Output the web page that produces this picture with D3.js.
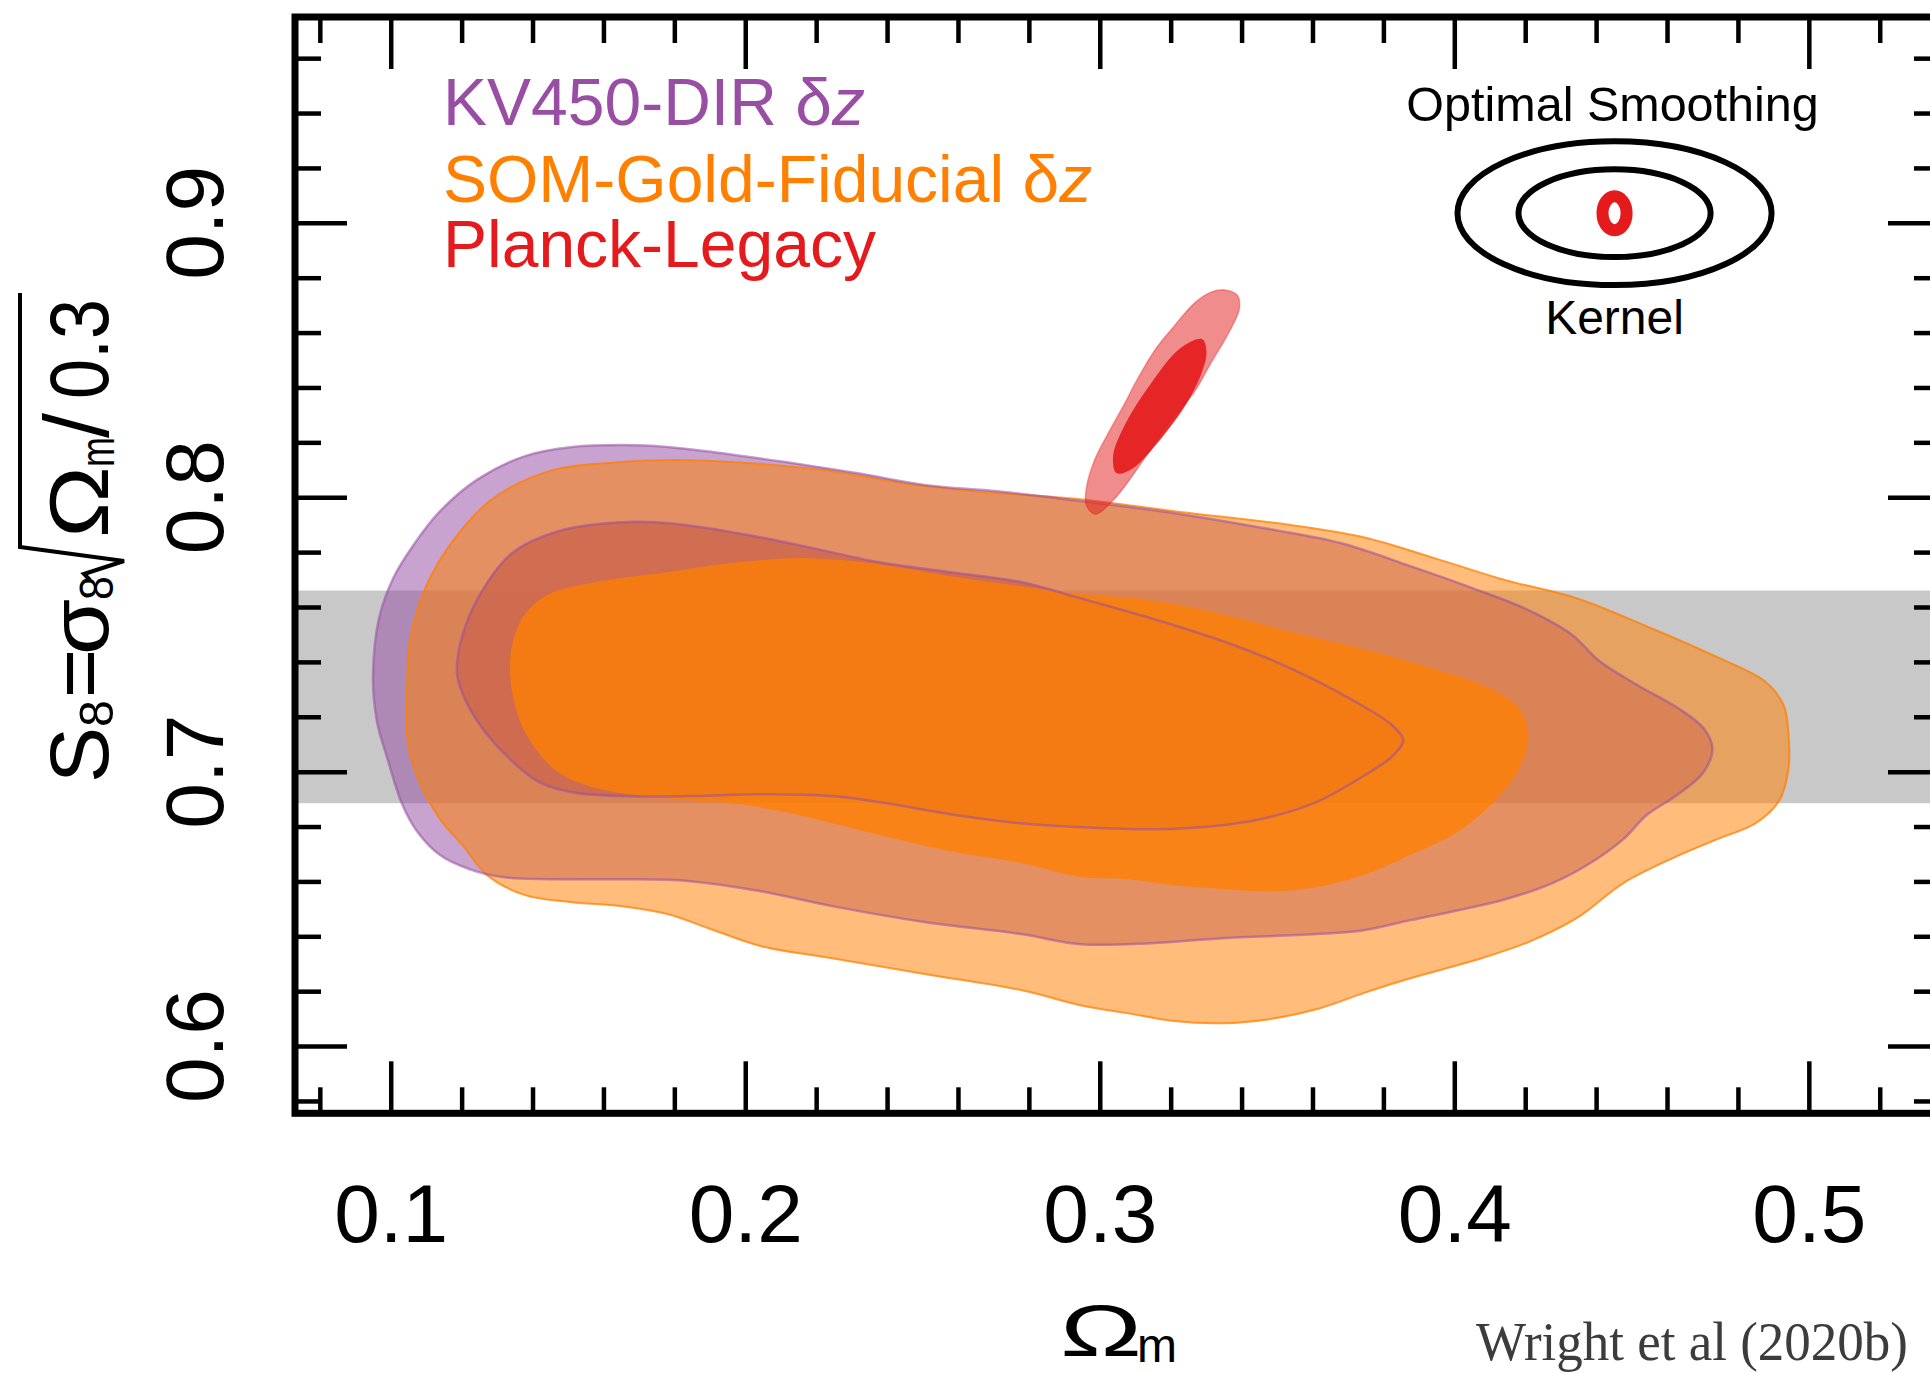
<!DOCTYPE html>
<html>
<head>
<meta charset="utf-8">
<script src="https://cdn.jsdelivr.net/npm/d3@7"></script>
<style>
  html, body { margin: 0; padding: 0; background: #ffffff; overflow: hidden; }
  svg { display: block; }
</style>
</head>
<body>
<svg id="chart" width="1930" height="1373"></svg>
<script>
// ---- axis ticks and labels ----
const xMajorTicks = [0.1, 0.2, 0.3, 0.4, 0.5];
const xTickLabels = ["0.1", "0.2", "0.3", "0.4", "0.5"];
const xMinorTicks = [0.08, 0.12, 0.14, 0.16, 0.18, 0.22, 0.24, 0.26, 0.28,
                     0.32, 0.34, 0.36, 0.38, 0.42, 0.44, 0.46, 0.48, 0.52];
const yMajorTicks = [0.6, 0.7, 0.8, 0.9];
const yTickLabels = ["0.6", "0.7", "0.8", "0.9"];
const yMinorTicks = [0.58, 0.62, 0.64, 0.66, 0.68, 0.72, 0.74, 0.76, 0.78,
                     0.82, 0.84, 0.86, 0.88, 0.92, 0.94, 0.96];

// ---- legend entries ----
const legendNames = ["KV450-DIR ", "SOM-Gold-Fiducial ", "Planck-Legacy"];
const legendSuffix = [true, true, false];   // entries ending in "δz"

// ---- horizontal S8 band ----
const s8Band = [0.6885, 0.766];

// ---- KV450-DIR δz : outer (95%) and inner (68%) contours, [Ωm, S8] ----
const kv450Outer = [
  [0.0950,0.7344],[0.0967,0.7559],[0.1007,0.7705],[0.1060,0.7818],[0.1139,0.7949],
  [0.1246,0.8066],[0.1379,0.8150],[0.1512,0.8183],[0.1658,0.8190],[0.1780,0.8183],
  [0.1912,0.8164],[0.2113,0.8128],[0.2313,0.8088],[0.2510,0.8044],[0.2711,0.8022],
  [0.2945,0.7986],[0.3210,0.7942],[0.3478,0.7884],[0.3679,0.7833],[0.3876,0.7749],
  [0.4051,0.7669],[0.4209,0.7589],[0.4330,0.7501],[0.4409,0.7403],[0.4517,0.7315],
  [0.4635,0.7228],[0.4703,0.7158],[0.4728,0.7086],[0.4703,0.6998],[0.4624,0.6911],
  [0.4542,0.6841],[0.4477,0.6754],[0.4384,0.6667],[0.4277,0.6594],[0.4144,0.6535],
  [0.4012,0.6495],[0.3876,0.6459],[0.3744,0.6422],[0.3611,0.6408],[0.3346,0.6393],
  [0.3145,0.6375],[0.2945,0.6371],[0.2778,0.6408],[0.2510,0.6451],[0.2245,0.6510],
  [0.2045,0.6564],[0.1845,0.6601],[0.1647,0.6608],[0.1447,0.6608],[0.1314,0.6616],
  [0.1221,0.6645],[0.1139,0.6696],[0.1074,0.6783],[0.1032,0.6882],[0.0992,0.7042],
  [0.0961,0.7184]
];
const kv450Inner = [
  [0.1187,0.7359],[0.1198,0.7476],[0.1246,0.7632],[0.1339,0.7793],[0.1472,0.7876],
  [0.1647,0.7909],[0.1780,0.7906],[0.1980,0.7869],[0.2178,0.7818],[0.2378,0.7763],
  [0.2578,0.7727],[0.2778,0.7691],[0.2945,0.7632],[0.3145,0.7559],[0.3346,0.7476],
  [0.3543,0.7374],[0.3718,0.7257],[0.3825,0.7169],[0.3856,0.7115],[0.3825,0.7056],
  [0.3744,0.6984],[0.3611,0.6889],[0.3478,0.6834],[0.3346,0.6805],[0.3145,0.6790],
  [0.2945,0.6798],[0.2778,0.6812],[0.2578,0.6845],[0.2378,0.6889],[0.2245,0.6911],
  [0.2045,0.6918],[0.1845,0.6911],[0.1647,0.6911],[0.1512,0.6925],[0.1418,0.6962],
  [0.1339,0.7042],[0.1260,0.7155],[0.1207,0.7271]
];

// ---- SOM-Gold-Fiducial δz : outer (95%) and inner (68%) contours ----
const somOuter = [
  [0.1046,0.7301],[0.1054,0.7476],[0.1100,0.7676],[0.1179,0.7847],[0.1286,0.7993],
  [0.1447,0.8095],[0.1647,0.8128],[0.1845,0.8135],[0.2045,0.8121],[0.2245,0.8095],
  [0.2446,0.8051],[0.2646,0.8022],[0.2945,0.7993],[0.3210,0.7949],[0.3543,0.7898],
  [0.3744,0.7854],[0.3944,0.7778],[0.4144,0.7698],[0.4345,0.7632],[0.4542,0.7530],
  [0.4742,0.7417],[0.4875,0.7330],[0.4929,0.7242],[0.4943,0.7129],[0.4943,0.7013],
  [0.4917,0.6896],[0.4850,0.6812],[0.4742,0.6754],[0.4610,0.6681],[0.4477,0.6594],
  [0.4345,0.6466],[0.4209,0.6379],[0.4077,0.6320],[0.3876,0.6247],[0.3744,0.6193],
  [0.3611,0.6134],[0.3478,0.6098],[0.3346,0.6083],[0.3210,0.6091],[0.3078,0.6120],
  [0.2945,0.6149],[0.2778,0.6204],[0.2510,0.6262],[0.2245,0.6320],[0.2045,0.6364],
  [0.1912,0.6422],[0.1780,0.6481],[0.1647,0.6510],[0.1512,0.6524],[0.1379,0.6550],
  [0.1272,0.6623],[0.1207,0.6725],[0.1139,0.6827],[0.1074,0.6984],[0.1046,0.7129]
];
const somInner = [
  [0.1337,0.7344],[0.1345,0.7476],[0.1379,0.7574],[0.1447,0.7647],[0.1579,0.7691],
  [0.1780,0.7727],[0.1980,0.7763],[0.2178,0.7778],[0.2378,0.7756],[0.2578,0.7712],
  [0.2778,0.7676],[0.2945,0.7647],[0.3145,0.7625],[0.3346,0.7574],[0.3543,0.7508],
  [0.3744,0.7446],[0.3944,0.7374],[0.4105,0.7301],[0.4184,0.7228],[0.4209,0.7129],
  [0.4184,0.7013],[0.4116,0.6896],[0.4012,0.6783],[0.3876,0.6696],[0.3744,0.6623],
  [0.3611,0.6579],[0.3478,0.6564],[0.3346,0.6572],[0.3210,0.6586],[0.3078,0.6608],
  [0.2945,0.6616],[0.2778,0.6667],[0.2578,0.6710],[0.2378,0.6769],[0.2245,0.6812],
  [0.2113,0.6852],[0.1980,0.6882],[0.1845,0.6896],[0.1712,0.6911],[0.1579,0.6940],
  [0.1472,0.6998],[0.1407,0.7086],[0.1365,0.7184]
];

// ---- Planck-Legacy : outer (95%) and inner (68%) contours ----
const planckOuter = [
  [0.3315,0.8748],[0.3354,0.8755],[0.3388,0.8736],[0.3394,0.8689],[0.3368,0.8609],
  [0.3315,0.8492],[0.3264,0.8379],[0.3193,0.8267],[0.3123,0.8135],[0.3038,0.7989],
  [0.2987,0.7938],[0.2962,0.7971],[0.2962,0.8033],[0.2985,0.8135],[0.3030,0.8248],
  [0.3072,0.8346],[0.3106,0.8430],[0.3159,0.8543],[0.3210,0.8624],[0.3270,0.8711]
];
const planckInner = [
  [0.3289,0.8576],[0.3301,0.8529],[0.3289,0.8459],[0.3247,0.8346],[0.3176,0.8219],
  [0.3089,0.8102],[0.3047,0.8088],[0.3038,0.8153],[0.3072,0.8267],[0.3143,0.8412],
  [0.3227,0.8543]
];

// ---- smoothing-kernel inset: centre and semi-axes [ΔΩm, ΔS8] ----
const kernelCentre = [0.4452, 0.9035];
const kernelOuter = [0.0443, 0.0262];
const kernelInner = [0.0271, 0.0160];
const kernelCore  = [0.0034, 0.0062];

// ---- colours ----
const PURPLE = "#984ea3", ORANGE = "#ff7f00", RED = "#e41a1c", BAND = "#c8c8c8";
const SANS = "'Liberation Sans', Arial, Helvetica, sans-serif";

// ---- scales ----
const svg = d3.select("#chart");
const x = d3.scaleLinear().domain([0.073, 0.537]).range([295, 1940]);
const y = d3.scaleLinear().domain([0.5755, 0.975]).range([1113.3, 17]);
const [x0, x1] = x.range();
const [yb, yt] = y.range();

svg.append("defs").append("clipPath").attr("id", "plot-area")
  .append("rect").attr("x", x0).attr("y", yt).attr("width", x1 - x0).attr("height", yb - yt);

const plot = svg.append("g").attr("clip-path", "url(#plot-area)");

// S8 band
plot.append("rect")
  .attr("x", x0).attr("width", x1 - x0)
  .attr("y", y(s8Band[1])).attr("height", y(s8Band[0]) - y(s8Band[1]))
  .attr("fill", BAND);

const contour = d3.line()
  .x(d => x(d[0])).y(d => y(d[1]))
  .curve(d3.curveCatmullRomClosed.alpha(0.5));

// filled confidence regions, drawn back to front
const fills = [
  { pts: kv450Outer, color: PURPLE, op: 0.52 },
  { pts: kv450Inner, color: PURPLE, op: 0.85 },
  { pts: somOuter,   color: ORANGE, op: 0.52 },
  { pts: somInner,   color: ORANGE, op: 0.76 }
];
plot.selectAll("path.fill").data(fills).join("path")
  .attr("class", "fill")
  .attr("d", d => contour(d.pts))
  .attr("fill", d => d.color).attr("fill-opacity", d => d.op)
  .attr("stroke", "none");

// contour edges
const edges = [
  { pts: somOuter,   color: ORANGE, op: 0.75, w: 2 },
  { pts: kv450Outer, color: PURPLE, op: 0.55, w: 2.5 },
  { pts: kv450Inner, color: PURPLE, op: 0.55, w: 2.5 }
];
plot.selectAll("path.edge").data(edges).join("path")
  .attr("class", "edge")
  .attr("d", d => contour(d.pts))
  .attr("fill", "none")
  .attr("stroke", d => d.color).attr("stroke-opacity", d => d.op)
  .attr("stroke-width", d => d.w);

// Planck contours on top
plot.append("path").attr("d", contour(planckOuter))
  .attr("fill", RED).attr("fill-opacity", 0.5)
  .attr("stroke", RED).attr("stroke-opacity", 0.35).attr("stroke-width", 1.5);
plot.append("path").attr("d", contour(planckInner))
  .attr("fill", RED).attr("fill-opacity", 0.9);

// ---- axes ----
function styleAxis(g) {
  g.select(".domain").remove();
  g.selectAll(".tick line").attr("stroke", "#000").attr("stroke-width", 4.5);
}
const bottomMajor = svg.append("g").attr("transform", `translate(0,${yb})`)
  .call(d3.axisBottom(x).tickValues(xMajorTicks).tickSize(-52).tickPadding(70)
        .tickFormat((d, i) => xTickLabels[i]));
styleAxis(bottomMajor);
bottomMajor.attr("font-family", SANS);
bottomMajor.selectAll(".tick text").attr("font-size", 82).attr("fill", "#000");

svg.append("g").attr("transform", `translate(0,${yb})`)
  .call(d3.axisBottom(x).tickValues(xMinorTicks).tickSize(-26).tickFormat(""))
  .call(styleAxis);
svg.append("g").attr("transform", `translate(0,${yt})`)
  .call(d3.axisTop(x).tickValues(xMajorTicks).tickSize(-52).tickFormat(""))
  .call(styleAxis);
svg.append("g").attr("transform", `translate(0,${yt})`)
  .call(d3.axisTop(x).tickValues(xMinorTicks).tickSize(-26).tickFormat(""))
  .call(styleAxis);
svg.append("g").attr("transform", `translate(${x0},0)`)
  .call(d3.axisLeft(y).tickValues(yMajorTicks).tickSize(-52).tickFormat(""))
  .call(styleAxis);
svg.append("g").attr("transform", `translate(${x0},0)`)
  .call(d3.axisLeft(y).tickValues(yMinorTicks).tickSize(-26).tickFormat(""))
  .call(styleAxis);
svg.append("g").attr("transform", `translate(${x1},0)`)
  .call(d3.axisRight(y).tickValues(yMajorTicks).tickSize(-52).tickFormat(""))
  .call(styleAxis);
svg.append("g").attr("transform", `translate(${x1},0)`)
  .call(d3.axisRight(y).tickValues(yMinorTicks).tickSize(-26).tickFormat(""))
  .call(styleAxis);

// frame
svg.append("rect")
  .attr("x", x0).attr("y", yt).attr("width", x1 - x0).attr("height", yb - yt)
  .attr("fill", "none").attr("stroke", "#000").attr("stroke-width", 7);

// rotated y tick labels
svg.append("g").selectAll("text").data(yMajorTicks).join("text")
  .attr("transform", d => `translate(223,${y(d)}) rotate(-90)`)
  .attr("text-anchor", "middle")
  .attr("font-family", SANS).attr("font-size", 82).attr("fill", "#000")
  .text((d, i) => yTickLabels[i]);

// ---- y-axis title: S8 = σ8 √(Ωm) / 0.3 ----
const yTitle = svg.append("g")
  .attr("transform", "translate(108,780) rotate(-90)")
  .attr("font-family", SANS).attr("fill", "#000");
yTitle.append("text").attr("x", -3).attr("y", 0).attr("font-size", 84).text("S");
yTitle.append("text").attr("x", 53).attr("y", 5).attr("font-size", 48)
  .attr("textLength", 27).attr("lengthAdjust", "spacingAndGlyphs").text("8");
yTitle.append("text").attr("x", 82).attr("y", 0).attr("font-size", 84).text("=");
yTitle.append("text").attr("x", 125).attr("y", 0).attr("font-size", 84)
  .attr("textLength", 56).attr("lengthAdjust", "spacingAndGlyphs").text("σ");
yTitle.append("text").attr("x", 180).attr("y", 5).attr("font-size", 48)
  .attr("textLength", 24).attr("lengthAdjust", "spacingAndGlyphs").text("8");
yTitle.append("path")
  .attr("d", "M200,-18 L206,-24 L219,16 L233,-88 L487,-88")
  .attr("fill", "none").attr("stroke", "#000").attr("stroke-width", 4)
  .attr("stroke-linejoin", "miter");
yTitle.append("text").attr("x", 242).attr("y", 0).attr("font-size", 84)
  .attr("textLength", 72).attr("lengthAdjust", "spacingAndGlyphs").text("Ω");
yTitle.append("text").attr("x", 313).attr("y", 6).attr("font-size", 48)
  .attr("textLength", 30).attr("lengthAdjust", "spacingAndGlyphs").text("m");
yTitle.append("text").attr("x", 342).attr("y", 0).attr("font-size", 90).text("/");
yTitle.append("text").attr("x", 381).attr("y", 0).attr("font-size", 84)
  .attr("textLength", 100).attr("lengthAdjust", "spacingAndGlyphs").text("0.3");

// ---- x-axis title: Ωm ----
svg.append("text").attr("x", 1060).attr("y", 1356)
  .attr("font-family", SANS).attr("font-size", 72)
  .attr("textLength", 82).attr("lengthAdjust", "spacingAndGlyphs").text("Ω");
svg.append("text").attr("x", 1137).attr("y", 1362)
  .attr("font-family", SANS).attr("font-size", 48).text("m");

// ---- legend ----
const legendColors = [PURPLE, ORANGE, RED];
const legendBaselines = [125, 202, 267];
legendNames.forEach((name, i) => {
  const t = svg.append("text")
    .attr("x", 443).attr("y", legendBaselines[i])
    .attr("font-family", SANS).attr("font-size", 66)
    .attr("fill", legendColors[i]);
  t.append("tspan").text(name);
  if (legendSuffix[i]) {
    t.append("tspan").text("δ");
    t.append("tspan").attr("font-style", "italic").text("z");
  }
});

// ---- smoothing-kernel inset ----
const kx = x(kernelCentre[0]), ky = y(kernelCentre[1]);
const rx = d => x(kernelCentre[0] + d[0]) - kx;
const ry = d => ky - y(kernelCentre[1] + d[1]);
svg.append("text").attr("x", kx - 2).attr("y", 121)
  .attr("text-anchor", "middle").attr("font-family", SANS).attr("font-size", 48.5)
  .attr("fill", "#000").text("Optimal Smoothing");
svg.append("ellipse").attr("cx", kx).attr("cy", ky)
  .attr("rx", rx(kernelOuter)).attr("ry", ry(kernelOuter))
  .attr("fill", "none").attr("stroke", "#000").attr("stroke-width", 6);
svg.append("ellipse").attr("cx", kx).attr("cy", ky)
  .attr("rx", rx(kernelInner)).attr("ry", ry(kernelInner))
  .attr("fill", "none").attr("stroke", "#000").attr("stroke-width", 6);
svg.append("ellipse").attr("cx", kx).attr("cy", ky)
  .attr("rx", rx(kernelCore)).attr("ry", ry(kernelCore))
  .attr("fill", "#fff").attr("stroke", RED).attr("stroke-width", 12);
svg.append("text").attr("x", kx).attr("y", 334)
  .attr("text-anchor", "middle").attr("font-family", SANS).attr("font-size", 48)
  .attr("fill", "#000").text("Kernel");

// ---- citation ----
svg.append("text").attr("x", 1476).attr("y", 1360)
  .attr("font-family", "'Liberation Serif', 'Times New Roman', serif")
  .attr("font-size", 54).attr("fill", "#3c3c3c")
  .attr("textLength", 432).attr("lengthAdjust", "spacingAndGlyphs")
  .text("Wright et al (2020b)");
</script>
</body>
</html>
